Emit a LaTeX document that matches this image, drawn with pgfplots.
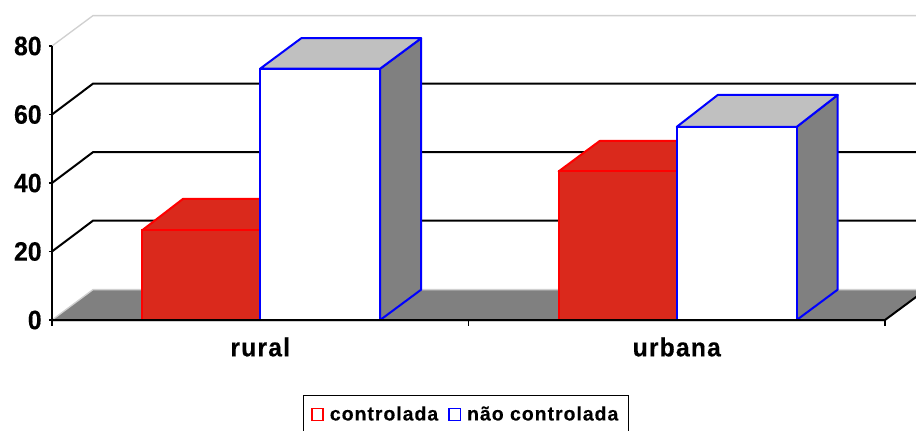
\documentclass[border=0pt]{standalone}
\usepackage{fontspec}
\setmainfont{Liberation Sans}
\newfontfamily\ticksf[FakeStretch=0.93,FakeBold=0.3]{Liberation Sans}
\newfontfamily\catsf[LetterSpace=4.5,FakeStretch=0.95,FakeBold=0.3]{Liberation Sans}
\newfontfamily\legsf[LetterSpace=5,FakeBold=0.25]{Liberation Sans}
\usepackage{pgfplots}
\pgfplotsset{compat=1.18}
\definecolor{redc}{HTML}{DA291C}
\definecolor{sideg}{HTML}{808080}
\definecolor{topg}{HTML}{C0C0C0}
\definecolor{softg}{HTML}{D0D0D0}
\pgfplotstableread{
x v
1 26.2
2 43.4
}\controlada
\pgfplotstableread{
x v
1 73.4
2 56.4
}\naocontrolada
\begin{document}
\begin{tikzpicture}
\path[use as bounding box,clip] (-39pt,-83.25pt) rectangle (648pt,240pt);
\begin{axis}[
  at={(0pt,0pt)},anchor=south west,
  scale only axis,width=624.75pt,height=205.5pt,
  xmin=0.5,xmax=2.5,ymin=0,ymax=80,
  clip=false,axis on top,
  axis x line=bottom,axis y line=left,
  axis line style={-,black,line width=1.5pt},
  xtick={1,2},xticklabels={rural,urbana},
  tick align=outside,major tick length=2.25pt,
  x tick style={draw=none},
  x tick label style={font=\catsf\bfseries\fontsize{19.5}{20}\selectfont,yshift=-25pt,anchor=base,text height=0pt},
  ytick={0,20,40,60,80},
  y tick style={black,line width=1.2pt},
  y tick label style={font=\ticksf\bfseries\fontsize{20}{20}\selectfont,xshift=-2pt},
  /pgf/number format/assume math mode=true,
  legend style={at={(0.3013,-0.2737)},anchor=north west,draw=black,line width=1pt,
    font=\legsf\bfseries\fontsize{14.6}{17}\selectfont,
    legend columns=2,inner xsep=5.5pt,inner ysep=6pt,
    /tikz/every even column/.append style={column sep=5.5pt},
    /tikz/every odd column/.append style={column sep=2.5pt}},
  legend image code/.code={\draw[#1,fill=white,line width=1.2pt] (0pt,-4.5pt) rectangle (8.5pt,4.5pt);},
]
\addlegendimage{red}\addlegendentry{controlada}
\addlegendimage{blue}\addlegendentry{não controlada}
% back wall gridlines
\addplot[black,line width=1.5pt,forget plot] coordinates {(0.5,20)(0.5984,29)(2.5984,29)};
\addplot[black,line width=1.5pt,forget plot] coordinates {(0.5,40)(0.5984,49)(2.5984,49)};
\addplot[black,line width=1.5pt,forget plot] coordinates {(0.5,60)(0.5984,69)(2.5984,69)};
\addplot[softg,line width=1pt,forget plot] coordinates {(0.5,80)(0.5984,88.87)(2.5984,88.87)};
% floor
\addplot[draw=none,fill=sideg,forget plot] coordinates {(0.5,0)(0.5984,8.87)(2.5984,8.87)(2.5,0)} -- cycle;
\addplot[softg,line width=1pt,forget plot] coordinates {(0.5,0)(0.5984,8.87)(2.5984,8.87)};
\addplot[black,line width=1.5pt,forget plot] coordinates {(2.5,0)(2.5984,8.87)};
\addplot[softg,line width=0.8pt,forget plot] coordinates {(0.5,-0.5)(2.5,-0.5)};
% x tick marks between the categories
\addplot[black,line width=1.2pt,forget plot] coordinates {(0.5,0)(0.5,-1.8)};
\addplot[black,line width=1.2pt,forget plot] coordinates {(1.5,0)(1.5,-1.8)};
\addplot[black,line width=1.2pt,forget plot] coordinates {(2.5,0)(2.5,-1.8)};
% controlada
\addplot[draw=red,fill=redc,line width=1.5pt,line join=round,forget plot] coordinates {(0.7165,26.2)(0.8149,35.4)(1.0984,35.4)(1,26.2)} -- cycle;
\addplot[draw=red,fill=redc,line width=1.5pt,line join=round,forget plot] coordinates {(1.7165,43.4)(1.8149,52.27)(2.0984,52.27)(2,43.4)} -- cycle;
\addplot[ybar,bar width=0.2835,bar shift=-0.14175,draw=red,fill=redc,line width=1.5pt,forget plot] table[x=x,y=v] {\controlada};
% não controlada
\addplot[draw=blue,fill=sideg,line width=1.5pt,line join=round,forget plot] coordinates {(1.288,0)(1.3864,8.87)(1.3864,82.27)(1.288,73.4)} -- cycle;
\addplot[draw=blue,fill=topg,line width=1.5pt,line join=round,forget plot] coordinates {(1,73.4)(1.0984,82.27)(1.3864,82.27)(1.288,73.4)} -- cycle;
\addplot[draw=blue,fill=sideg,line width=1.5pt,line join=round,forget plot] coordinates {(2.288,0)(2.3864,8.87)(2.3864,65.7)(2.288,56.4)} -- cycle;
\addplot[draw=blue,fill=topg,line width=1.5pt,line join=round,forget plot] coordinates {(2,56.4)(2.0984,65.7)(2.3864,65.7)(2.288,56.4)} -- cycle;
\addplot[ybar,bar width=0.288,bar shift=0.144,draw=blue,fill=white,line width=1.5pt,forget plot] table[x=x,y=v] {\naocontrolada};
\end{axis}
\end{tikzpicture}
\end{document}
